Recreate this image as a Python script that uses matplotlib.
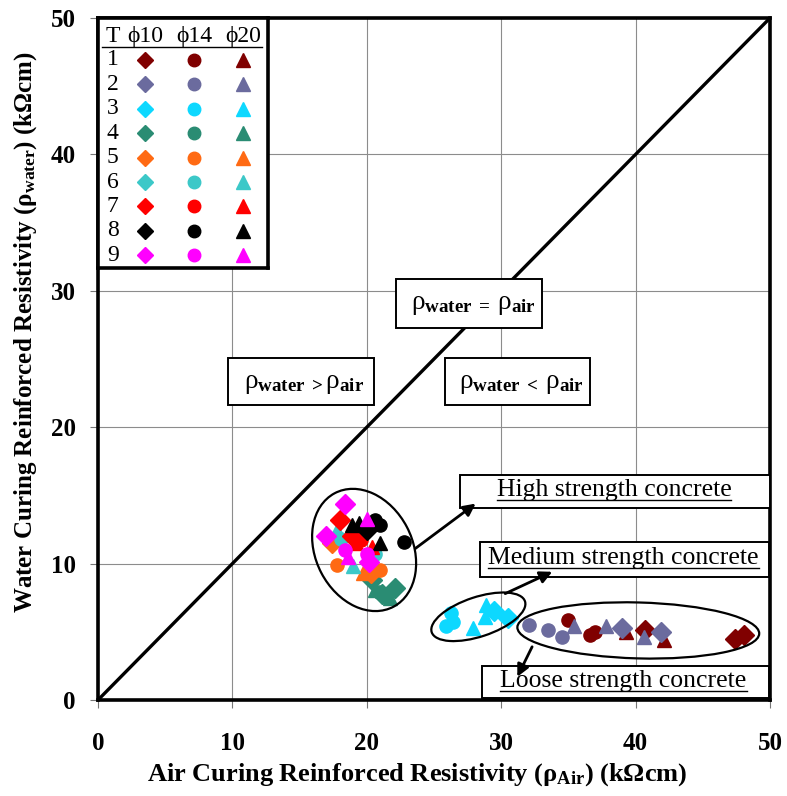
import matplotlib
matplotlib.use("Agg")
import matplotlib.pyplot as plt
from matplotlib.patches import Ellipse, Rectangle
from matplotlib.lines import Line2D

plt.rcParams["font.family"] = "Liberation Serif"
plt.rcParams["mathtext.fontset"] = "custom"
plt.rcParams["mathtext.rm"] = "Liberation Serif"
plt.rcParams["mathtext.bf"] = "Liberation Serif:bold"
plt.rcParams["mathtext.it"] = "Liberation Serif:italic"
plt.rcParams["mathtext.default"] = "regular"

# legend: mix type T (1..9) and bar diameter (phi10, phi14, phi20)
type_ids = [1, 2, 3, 4, 5, 6, 7, 8, 9]
type_colors = ["#800000", "#6B6B9E", "#0DD8FF", "#2A8C73", "#FF6A13",
               "#3CC8C8", "#FF0000", "#000000", "#FF00FF"]
bar_dias = [10, 14, 20]
dia_markers = ["D", "o", "^"]

# scatter points
air_res = [
    # high strength
    18.4, 18.0, 20.0, 18.9, 19.4, 20.0, 20.6, 21.0, 22.8, 21.0,
    17.8, 17.0, 18.9, 19.6, 19.2, 17.4, 18.1, 18.4, 20.0, 20.6,
    17.8, 19.0, 20.2, 19.7, 21.0, 20.3, 18.6, 20.4,
    20.4, 20.6, 21.1, 22.1, 21.7, 20.9,
    # medium strength
    26.3, 26.4, 25.9, 27.9, 28.9, 28.8, 29.5, 30.5,
    # loose strength
    32.1, 33.5, 34.5, 35.0, 35.4, 36.6, 37.0, 37.8, 39.0, 39.3,
    40.7, 40.6, 41.9, 42.1, 47.4, 48.1,
]
water_res = [
    14.4, 13.2, 13.3, 12.8, 13.0, 12.5, 13.2, 12.8, 11.6, 11.5,
    12.5, 12.0, 12.0, 11.7, 11.5, 11.5, 11.8, 11.0, 10.7, 10.7,
    9.9, 9.8, 10.1, 9.3, 9.5, 9.3, 10.5, 11.2,
    8.8, 8.1, 7.8, 8.2, 7.5, 7.9,
    6.4, 5.7, 5.4, 5.3, 7.0, 6.1, 6.5, 6.0,
    5.5, 5.1, 4.6, 5.9, 5.4, 4.8, 5.0, 5.4, 5.25, 5.0,
    5.1, 4.6, 5.0, 4.4, 4.5, 4.8,
]
mix_type = [
    9, 7, 9, 8, 8, 8, 8, 8, 8, 8,
    6, 9, 7, 7, 7, 5, 6, 9, 9, 6,
    5, 6, 9, 5, 5, 5, 9, 7,
    4, 4, 4, 4, 4, 4,
    3, 3, 3, 3, 3, 3, 3, 3,
    2, 2, 2, 1, 2, 1, 1, 2, 2, 1,
    1, 2, 2, 1, 1, 1,
]
bar_dia = [
    10, 10, 20, 20, 20, 10, 14, 14, 14, 20,
    20, 10, 10, 14, 20, 10, 14, 14, 14, 14,
    14, 20, 10, 20, 14, 10, 20, 20,
    10, 20, 10, 10, 20, 14,
    14, 14, 14, 20, 20, 20, 10, 10,
    14, 14, 14, 14, 20, 14, 14, 20, 10, 20,
    10, 20, 10, 20, 10, 10,
]

fig = plt.figure(figsize=(7.87, 7.96), dpi=100)
ax = fig.add_axes([98 / 787, 1 - 700 / 796, 672 / 787, 682 / 796])
ax.set_xlim(0, 50)
ax.set_ylim(0, 50)
ax.set_xticks(range(0, 51, 10))
ax.set_yticks(range(0, 51, 10))
ax.grid(True, color="#8c8c8c", lw=0.8)
ax.set_axisbelow(True)
for sp in ax.spines.values():
    sp.set_linewidth(2.6)
ax.tick_params(direction="out", length=6, width=0.8, color="#777777",
               labelsize=18)
ax.tick_params(axis="x", pad=17)
ax.tick_params(axis="y", pad=10)
for lab in ax.get_xticklabels() + ax.get_yticklabels():
    lab.set_fontweight("bold")

ax.set_xlabel("Air Curing Reinforced Resistivity (ρ$_{\\mathbf{Air}}$) (kΩcm)",
              fontsize=19, fontweight="bold")
ax.set_ylabel("Water Curing Reinforced Resistivity (ρ$_{\\mathbf{water}}$) (kΩcm)",
              fontsize=18, fontweight="bold")
ax.xaxis.set_label_coords(0.475, -0.09)
ax.yaxis.set_label_coords(-0.088, 0.54)

# equality line
ax.plot([0, 50], [0, 50], color="black", lw=2.4, zorder=2)

# points by type and bar diameter
for t, col in zip(type_ids, type_colors):
    for d, mk in zip(bar_dias, dia_markers):
        xs = [x for x, tt, dd in zip(air_res, mix_type, bar_dia) if tt == t and dd == d]
        ys = [y for y, tt, dd in zip(water_res, mix_type, bar_dia) if tt == t and dd == d]
        if xs:
            sz = 9.5 if mk == "o" else 10
            ax.plot(xs, ys, ls="none", marker=mk, color=col, ms=sz,
                    mec=col, zorder=3)

# cluster ellipses
ax.add_patch(Ellipse((19.8, 11.0), 7.2, 9.4, angle=28, fill=False,
                     ec="black", lw=1.6, zorder=4))
ax.add_patch(Ellipse((28.3, 6.1), 7.3, 2.9, angle=18, fill=False,
                     ec="black", lw=1.6, zorder=4))
ax.add_patch(Ellipse((40.2, 5.1), 18.0, 4.1, angle=-1.5, fill=False,
                     ec="black", lw=1.6, zorder=4))

# region boxes
box_kw = dict(fc="white", ec="black", lw=1.4, zorder=5, clip_on=False)
region_boxes = [(22.2, 27.3, 10.8, 3.6), (9.7, 21.6, 10.8, 3.5),
                (25.8, 21.6, 10.8, 3.5)]
region_texts = ["ρ$_{\\mathbf{water\\ =\\ }}$ρ$_{\\mathbf{air}}$",
                "ρ$_{\\mathbf{water\\ >}}$ρ$_{\\mathbf{air}}$",
                "ρ$_{\\mathbf{water\\ <\\ }}$ρ$_{\\mathbf{air}}$"]
region_pos = [(27.9, 29.0), (15.3, 23.2), (31.5, 23.2)]
for (bx, by, bw, bh), txt, (tx, ty) in zip(region_boxes, region_texts, region_pos):
    ax.add_patch(Rectangle((bx, by), bw, bh, **box_kw))
    ax.text(tx, ty, txt, fontsize=19.5, ha="center", va="center", zorder=6)

# concrete class boxes
class_boxes = [(26.9, 14.1, 23.1, 2.4), (28.4, 9.0, 21.5, 2.6),
               (28.55, 0.15, 21.35, 2.35)]
class_texts = ["High strength concrete", "Medium strength concrete",
               "Loose strength concrete"]
class_pos = [(38.4, 15.4), (39.1, 10.4), (39.1, 1.4)]
class_labels = []
for (bx, by, bw, bh), txt, (tx, ty) in zip(class_boxes, class_texts, class_pos):
    ax.add_patch(Rectangle((bx, by), bw, bh, **box_kw))
    class_labels.append(ax.text(tx, ty, txt, fontsize=18.5, ha="center",
                                va="center", zorder=6))

arrow_kw = dict(arrowstyle="-|>", lw=2.0, color="black", mutation_scale=18,
                shrinkA=0, shrinkB=0)
ax.annotate("", xy=(28.1, 14.4), xytext=(23.6, 11.1), arrowprops=arrow_kw, zorder=6)
ax.annotate("", xy=(33.8, 9.4), xytext=(30.3, 7.8), arrowprops=arrow_kw, zorder=6)
ax.annotate("", xy=(31.2, 1.7), xytext=(32.3, 3.9), arrowprops=arrow_kw, zorder=6)

# legend table drawn as inset axes
lax = fig.add_axes([98 / 787, 1 - 268 / 796, 170 / 787, 250 / 796], zorder=5)
lax.set_xlim(-0.96, 2.51)
lax.set_ylim(9.52, -0.72)
lax.set_xticks([])
lax.set_yticks([])
for sp in lax.spines.values():
    sp.set_linewidth(2.6)
lax.text(-0.66, 0.05, "T", fontsize=17, ha="center", va="center")
for j, d in enumerate(bar_dias):
    lax.text(j, 0.05, f"ϕ{d}", fontsize=17, ha="center", va="center")
lax.plot([-0.88, 2.38], [0.45, 0.45], color="black", lw=1.0)
for i, (t, col) in enumerate(zip(type_ids, type_colors)):
    lax.text(-0.66, i + 1, str(t), fontsize=17, ha="center", va="center")
    for j, mk in enumerate(dia_markers):
        sz = 9 if mk == "o" else (8.5 if mk == "D" else 9.5)
        lax.plot(j, i + 1, marker=mk, color=col, ms=sz, ls="none")

# underline the concrete class labels
fig.canvas.draw()
inv = fig.transFigure.inverted()
for t in class_labels:
    bb = t.get_window_extent()
    (x0, y0), (x1, _) = inv.transform([(bb.x0, bb.y0 + 1), (bb.x1, bb.y0 + 1)])
    fig.add_artist(Line2D([x0, x1], [y0, y0], color="black", lw=1.0, zorder=7))

fig.savefig("out.png", dpi=100)
